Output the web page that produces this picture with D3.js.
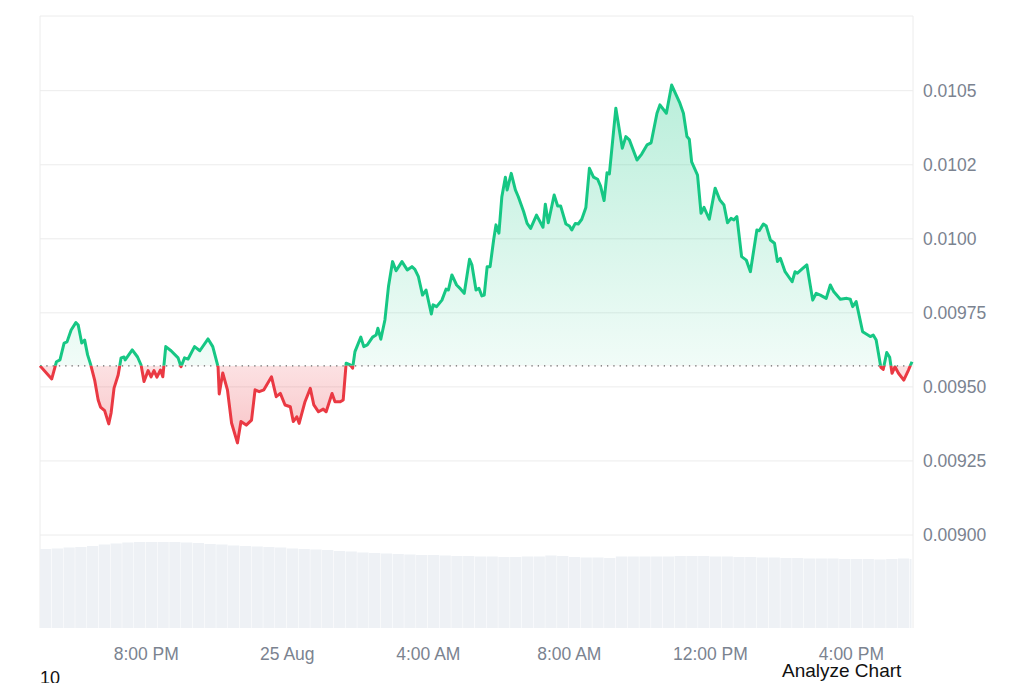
<!DOCTYPE html>
<html>
<head>
<meta charset="utf-8">
<script src="https://cdn.jsdelivr.net/npm/d3@7"></script>
<style>
  body { margin: 0; background: #fff; }
  svg { display: block; font-family: "Liberation Sans", Arial, sans-serif; }
</style>
</head>
<body>
<svg id="svg01" width="1024" height="683"></svg>
<script>
// price series (minutes after start, price in USD)
const startTime = "2024-08-24 17:00";
const minutes = [0,20,28,34,41,46,53,61,65,71,76,81,86,93,99,103,110,117,121,126,133,138,143,145,157,166,172,177,184,189,
  194,199,205,209,214,223,235,240,246,252,263,272,286,294,303,305,311,319,326,336,342,351,360,366,373,381,394,402,409,417,
  426,431,437,441,451,460,466,474,482,487,497,502,511,516,521,528,532,536,546,551,557,566,572,575,580,587,593,600,606,616,
  625,633,638,644,651,657,666,669,675,684,691,695,701,709,716,722,731,735,742,747,752,756,761,766,772,776,781,786,792,795,
  802,809,814,823,829,835,845,856,860,865,875,881,886,895,901,905,911,916,922,929,935,942,949,954,960,965,969,980,991,997,
  1003,1016,1024,1033,1040,1050,1055,1066,1075,1089,1095,1101,1105,1109,1119,1125,1130,1139,1149,1157,1164,1170,1176,1181,1186,1194,1202,1209,1220,1224,
  1231,1236,1243,1250,1255,1260,1268,1280,1285,1289,1298,1305,1315,1321,1328,1338,1345,1351,1362,1373,1379,1383,1389,1400,1413,1418,1423,1431,1435,1441,
  1446,1450,1455,1461,1470,1478,1484];
const prices = [0.009571,0.009527,0.009585,0.009591,0.009648,0.009652,0.009692,0.009717,0.009709,0.009648,0.009658,0.009608,0.009577,0.009523,0.009456,0.009432,0.009420,0.009375,0.009412,0.009496,
  0.009540,0.009598,0.009601,0.009591,0.009625,0.009601,0.009574,0.009518,0.009555,0.009534,0.009555,0.009533,0.009557,0.009534,0.009636,0.009622,0.009598,0.009568,0.009598,0.009594,
  0.009636,0.009622,0.009662,0.009636,0.009568,0.009476,0.009547,0.009490,0.009378,0.009311,0.009383,0.009371,0.009388,0.009490,0.009484,0.009490,0.009534,0.009467,0.009478,0.009439,
  0.009433,0.009383,0.009399,0.009377,0.009450,0.009495,0.009439,0.009416,0.009425,0.009416,0.009478,0.009450,0.009450,0.009456,0.009580,0.009574,0.009563,0.009619,0.009668,0.009636,
  0.009642,0.009668,0.009675,0.009698,0.009661,0.009726,0.009838,0.009923,0.009892,0.009923,0.009895,0.009906,0.009897,0.009872,0.009810,0.009827,0.009746,0.009777,0.009771,0.009793,
  0.009830,0.009827,0.009878,0.009844,0.009830,0.009816,0.009931,0.009912,0.009827,0.009833,0.009807,0.009810,0.009906,0.009906,0.009996,0.010047,0.010019,0.010142,0.010208,0.010165,
  0.010221,0.010165,0.010142,0.010092,0.010052,0.010035,0.010080,0.010039,0.010117,0.010054,0.010148,0.010111,0.010111,0.010050,0.010043,0.010030,0.010052,0.010050,0.010066,0.010106,
  0.010238,0.010208,0.010201,0.010178,0.010129,0.010223,0.010219,0.010441,0.010306,0.010345,0.010334,0.010266,0.010286,0.010317,0.010324,0.010424,0.010452,0.010424,0.010519,0.010458,
  0.010424,0.010345,0.010336,0.010260,0.010215,0.010086,0.010106,0.010066,0.010171,0.010131,0.010114,0.010054,0.010069,0.010064,0.010075,0.009940,0.009928,0.009889,0.010030,0.010027,
  0.010050,0.010043,0.009996,0.009985,0.009923,0.009934,0.009889,0.009855,0.009889,0.009884,0.009900,0.009912,0.009793,0.009816,0.009810,0.009799,0.009844,0.009821,0.009796,0.009799,
  0.009796,0.009771,0.009788,0.009686,0.009670,0.009675,0.009658,0.009566,0.009559,0.009616,0.009600,0.009546,0.009568,0.009546,0.009523,0.009557,0.009585];

// volume, one bar every 20 minutes (millions)
const volStep = 20;
const volumes = [1.975,1.988,2.013,2.025,2.05,2.088,2.113,2.138,2.15,2.15,2.15,2.15,2.138,2.125,2.1,2.088,2.063,2.05,2.038,2.025,
  2.013,1.988,1.975,1.963,1.95,1.925,1.913,1.888,1.875,1.863,1.85,1.838,1.825,1.825,1.813,1.8,1.8,1.788,1.788,1.775,
  1.775,1.788,1.788,1.813,1.8,1.775,1.763,1.763,1.75,1.788,1.788,1.788,1.788,1.788,1.8,1.8,1.8,1.788,1.788,1.775,
  1.775,1.763,1.763,1.75,1.75,1.738,1.738,1.738,1.725,1.725,1.725,1.713,1.725,1.738,1.725];

// axis ticks
const yTicks = [0.009, 0.00925, 0.0095, 0.00975, 0.01, 0.01025, 0.0105];
const yTickLabels = ["0.00900", "0.00925", "0.00950", "0.00975", "0.0100", "0.0102", "0.0105"];
const xTickHours = [4, 8, 12, 16, 20, 24];  // hours after 16:00 on 24 Aug

const t0 = d3.timeParse("%Y-%m-%d %H:%M")(startTime);
const data = minutes.map((m, i) => ({date: d3.timeMinute.offset(t0, m), price: prices[i]}));
const base = prices[0];

const plot = {left: 40, right: 913, top: 16, bottom: 628};
const green = "#16c784", red = "#ea3943";

const x = d3.scaleTime()
    .domain(d3.extent(data, d => d.date))
    .range([plot.left, 912]);

const y = d3.scaleLinear()
    .domain([0.009, 0.0105])
    .range([535, 90.7]);

const yVol = d3.scaleLinear()
    .domain([0, d3.max(volumes)])
    .range([plot.bottom, 542]);

const svg = d3.select("#svg01");
const defs = svg.append("defs");

const gGreen = defs.append("linearGradient").attr("id", "gradG")
    .attr("gradientUnits", "userSpaceOnUse").attr("x1", 0).attr("x2", 0)
    .attr("y1", y(d3.max(prices))).attr("y2", y(base));
gGreen.append("stop").attr("offset", 0).attr("stop-color", green).attr("stop-opacity", 0.3);
gGreen.append("stop").attr("offset", 1).attr("stop-color", green).attr("stop-opacity", 0.06);

const gRed = defs.append("linearGradient").attr("id", "gradR")
    .attr("gradientUnits", "userSpaceOnUse").attr("x1", 0).attr("x2", 0)
    .attr("y1", y(base)).attr("y2", y(d3.min(prices)));
gRed.append("stop").attr("offset", 0).attr("stop-color", red).attr("stop-opacity", 0.15);
gRed.append("stop").attr("offset", 1).attr("stop-color", red).attr("stop-opacity", 0.3);

defs.append("clipPath").attr("id", "clipAbove")
  .append("rect").attr("x", 0).attr("y", 0).attr("width", 1024).attr("height", y(base));
defs.append("clipPath").attr("id", "clipBelow")
  .append("rect").attr("x", 0).attr("y", y(base)).attr("width", 1024).attr("height", 683 - y(base));

// frame
svg.append("path")
    .attr("d", `M${plot.left},${plot.bottom}V${plot.top}H${plot.right}V${plot.bottom}`)
    .attr("fill", "none").attr("stroke", "#ececec").attr("stroke-width", 1);

// grid
svg.append("g").selectAll("line").data(yTicks).join("line")
    .attr("x1", plot.left).attr("x2", plot.right)
    .attr("y1", d => y(d)).attr("y2", d => y(d))
    .attr("stroke", "#ececec").attr("stroke-width", 1);

// volume bars
svg.append("g").selectAll("rect").data(volumes).join("rect")
    .attr("x", (d, i) => x(d3.timeMinute.offset(t0, i * volStep)))
    .attr("y", d => yVol(d))
    .attr("width", (d, i) => {
        const x0 = x(d3.timeMinute.offset(t0, i * volStep));
        const x1 = Math.min(x(d3.timeMinute.offset(t0, (i + 1) * volStep)), 912);
        return Math.max(0, x1 - x0 - 0.5);
    })
    .attr("height", d => plot.bottom - yVol(d))
    .attr("fill", "#eef1f5");

const area = d3.area()
    .x(d => x(d.date))
    .y0(y(base))
    .y1(d => y(d.price));
const line = d3.line()
    .x(d => x(d.date))
    .y(d => y(d.price));

svg.append("path").attr("d", area(data)).attr("fill", "url(#gradG)").attr("clip-path", "url(#clipAbove)");
svg.append("path").attr("d", area(data)).attr("fill", "url(#gradR)").attr("clip-path", "url(#clipBelow)");

// baseline (opening price)
svg.append("line")
    .attr("x1", plot.left).attr("x2", plot.right)
    .attr("y1", y(base)).attr("y2", y(base))
    .attr("stroke", "#666").attr("stroke-width", 1.3).attr("stroke-dasharray", "1.3,5");

svg.append("path").attr("d", line(data)).attr("fill", "none").attr("stroke", green)
    .attr("stroke-width", 3).attr("stroke-linejoin", "round").attr("clip-path", "url(#clipAbove)");
svg.append("path").attr("d", line(data)).attr("fill", "none").attr("stroke", red)
    .attr("stroke-width", 3).attr("stroke-linejoin", "round").attr("clip-path", "url(#clipBelow)");

// y labels on the right
svg.append("g").selectAll("text").data(yTicks).join("text")
    .attr("x", 923).attr("y", d => y(d))
    .attr("dy", "0.36em")
    .attr("font-size", 17.5).attr("fill", "#7b8390")
    .text((d, i) => yTickLabels[i]);

// x axis
const xTicks = xTickHours.map(h => d3.timeHour.offset(d3.timeHour.offset(t0, -1), h));
const fmt = d => d.getHours() === 0 ? d3.timeFormat("%-d %b")(d) : d3.timeFormat("%-I:%M %p")(d);
const xAxis = g => g
    .attr("transform", `translate(0,${plot.bottom})`)
    .call(d3.axisBottom(x).tickValues(xTicks).tickFormat(fmt).tickSize(0).tickPadding(20))
    .call(g => g.select(".domain").remove())
    .call(g => g.selectAll("text").attr("font-size", 17.5).attr("fill", "#7b8390")
        .attr("font-family", "Liberation Sans, Arial, sans-serif"));
svg.append("g").call(xAxis);

svg.append("text").attr("x", 40).attr("y", 684).attr("font-size", 18).attr("fill", "#111").text("10");
svg.append("text").attr("x", 782).attr("y", 677).attr("font-size", 19).attr("fill", "#111").text("Analyze Chart");
</script>
</body>
</html>
